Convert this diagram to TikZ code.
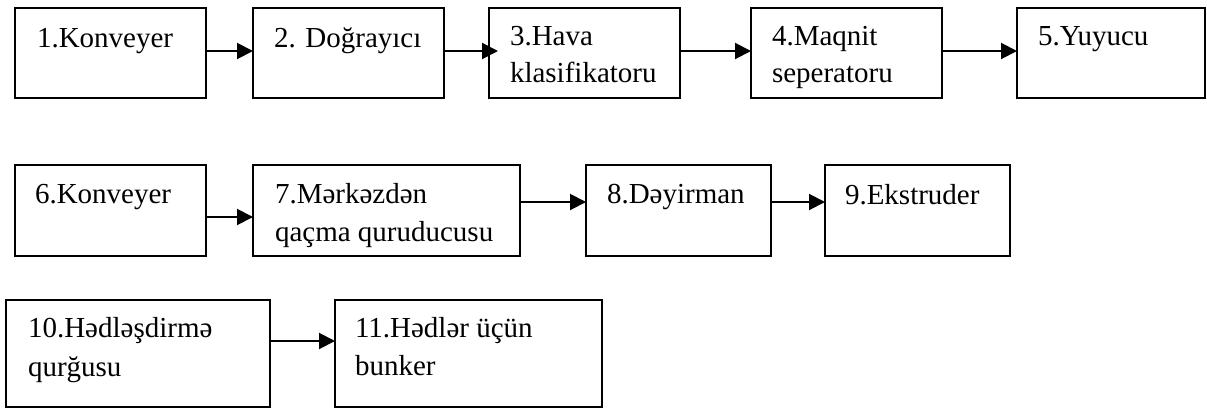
\documentclass[tikz,border=0pt]{standalone}
\usepackage{fontspec}
\setmainfont{Liberation Serif}
\usetikzlibrary{arrows.meta}
\begin{document}
\begin{tikzpicture}[x=1pt,y=-1pt,
  box/.style={draw=black,line width=2pt,rectangle,inner sep=0pt,outer sep=0pt,
              minimum height=90pt},
  txt/.style={anchor=base west,inner sep=0pt,outer sep=0pt,
              font=\fontsize{29}{37}\selectfont},
  arr/.style={line width=2pt,-{Triangle[length=16pt,width=16pt]}}]
\useasboundingbox (0,0) rectangle (1207,410);

% first row
\node[box,minimum width=191pt] (b1) at (110.5,53) {};
\node[box,minimum width=191pt] (b2) at (348.5,53) {};
\node[box,minimum width=191pt] (b3) at (584.5,53) {};
\node[box,minimum width=191pt] (b4) at (846.5,53) {};
\node[box,minimum width=188pt] (b5) at (1111,53) {};

\node[txt] (t1)  at (37,47)  {1.Konveyer};
\node[txt] (t2)  at (274,47) {2. Doğrayıcı};
\node[txt] (t3a) at (510,45) {3.Hava};
\node[txt] (t3b) at (510,82) {klasifikatoru};
\node[txt] (t4a) at (772,45) {4.Maqnit};
\node[txt] (t4b) at (772,82) {seperatoru};
\node[txt] (t5)  at (1038,45) {5.Yuyucu};

% second row
\node[box,minimum width=191pt,minimum height=91pt] (b6) at (110.5,210.5) {};
\node[box,minimum width=267pt,minimum height=91pt] (b7) at (386.5,210.5) {};
\node[box,minimum width=185pt,minimum height=91pt] (b8) at (678.5,210.5) {};
\node[box,minimum width=185pt,minimum height=91pt] (b9) at (917.5,210.5) {};

\node[txt] (t6)  at (35,203)  {6.Konveyer};
\node[txt] (t7a) at (275,203) {7.Mərkəzdən};
\node[txt] (t7b) at (275,241) {qaçma quruducusu};
\node[txt] (t8)  at (607,203) {8.Dəyirman};
\node[txt] (t9)  at (845,204) {9.Ekstruder};

% third row
\node[box,minimum width=264pt,minimum height=107pt] (b10) at (138,353.5) {};
\node[box,minimum width=267pt,minimum height=107pt] (b11) at (468.5,353.5) {};

\node[txt] (t10a) at (28,337)  {10.Hədləşdirmə};
\node[txt] (t10b) at (28,376)  {qurğusu};
\node[txt] (t11a) at (355,337) {11.Hədlər üçün};
\node[txt] (t11b) at (355,375) {bunker};

% connectors
\draw[arr] (b1.east |- 0,51) -- (b2.west |- 0,51);
\draw[arr] (b2.east |- 0,51) -- ([xshift=9pt]b3.west |- 0,51);
\draw[arr] (b3.east |- 0,51) -- (b4.west |- 0,51);
\draw[arr] (b4.east |- 0,51) -- (b5.west |- 0,51);
\draw[arr] (b6.east |- 0,217) -- (b7.west |- 0,217);
\draw[arr] (b7.east |- 0,202) -- (b8.west |- 0,202);
\draw[arr] (b8.east |- 0,202) -- (b9.west |- 0,202);
\draw[arr] (b10.east |- 0,341) -- (b11.west |- 0,341);
\end{tikzpicture}
\end{document}
